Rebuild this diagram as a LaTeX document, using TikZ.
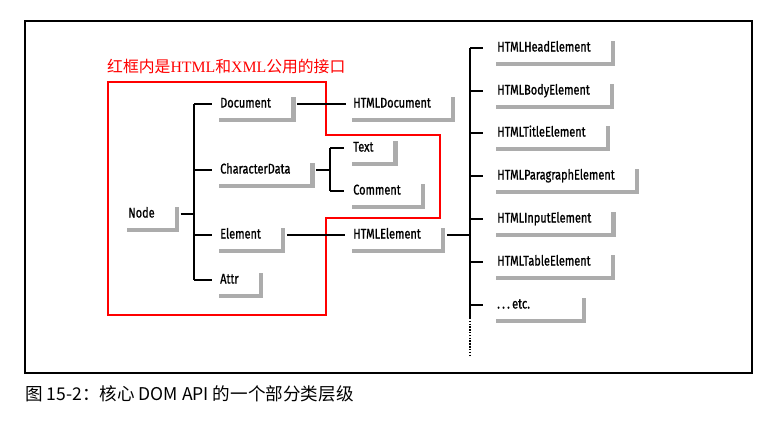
\documentclass[tikz,border=0pt]{standalone}
\usepackage{fontspec}
\newfontfamily\clsfont[FakeStretch=0.78,FakeBold=1]{Fira Sans}
\newfontfamily\cjk{Noto Sans CJK SC}
\newfontfamily\latinserif{Liberation Serif}
\usetikzlibrary{calc}

\tikzset{
  cls/.style={font=\clsfont\fontsize{12}{14}\selectfont, anchor=west, inner sep=0pt,
              text height=8pt, text depth=2pt},
  clsshadow/.style={draw=gray!65, line width=4pt},
  tree/.style={black, line width=1.3pt},
}
% grey drop shadow right of and below a class name
\newcommand{\dropshadow}[2][22]{\draw[clsshadow] ([shift={(#1,-7)}]#2.east) |- ([shift={(-1,16)}]#2.west);}

\begin{document}
\begin{tikzpicture}[x=0.03cm, y=-0.03cm]
  \useasboundingbox (0,0) rectangle (773,421);
  % frame and caption
  \draw[line width=1pt] (25,21) rectangle (752,373);
  \node[anchor=west, inner sep=0pt, font=\cjk\fontsize{15}{17}\selectfont] (caption) at (25,394)
       {图 15-2：核心 DOM API 的一个部分类层级};

  % red box: shared HTML/XML interfaces
  \draw[red, line width=0.9pt] (108,82) -- (326,82) -- (326,135) -- (440,135) -- (440,218)
       -- (326,218) -- (326,315) -- (108,315) -- cycle;
  \node[red, anchor=west, inner sep=0pt, font=\fontsize{13.5}{15}\selectfont] (redlabel) at (107,66)
       {\cjk 红框内是\latinserif HTML\cjk 和\latinserif XML\cjk 公用的接口};

  % core classes
  \node[cls] (node)     at (128,214) {Node};
  \node[cls] (document) at (220,104) {Document};
  \node[cls] (chardata) at (220,170) {CharacterData};
  \node[cls] (element)  at (220,235) {Element};
  \node[cls] (attr)     at (220,280) {Attr};
  \node[cls] (text)     at (353,148) {Text};
  \node[cls] (comment)  at (353,191) {Comment};
  \node[cls] (htmldoc)  at (353,104) {HTMLDocument};
  \node[cls] (htmlelem) at (353,235) {HTMLElement};
  \foreach \n in {node,document,chardata,element,attr,text,comment,htmldoc,htmlelem}
    \dropshadow{\n};

  \coordinate (forkA) at (194,214);
  \coordinate (forkB) at (330,170);
  \coordinate (forkC) at (470,235);
  \coordinate (trunkend) at (470,318);
  \coordinate (dotend) at (470,356);

  \draw[tree] ([xshift=22]node.east) -- (forkA);
  \draw[tree] (forkA |- document) -- (forkA |- attr);
  \foreach \n in {document,chardata,element,attr}
    \draw[tree] (forkA |- \n) -- ([xshift=-7]\n.west);

  \draw[tree] ([xshift=22]chardata.east) -- (forkB);
  \draw[tree] (forkB |- text) -- (forkB |- comment);
  \foreach \n in {text,comment}
    \draw[tree] (forkB |- \n) -- ([xshift=-8]\n.west);

  \draw[tree] ([xshift=22]document.east) -- ([xshift=-6]htmldoc.west);
  \draw[tree] ([xshift=22]element.east) -- ([xshift=-7]htmlelem.west);
  \draw[tree] ([xshift=22]htmlelem.east) -- (forkC);

  % HTML element subclasses
  \foreach \n/\t/\y in {head/HTMLHeadElement/48, body/HTMLBodyElement/91, title/HTMLTitleElement/133,
      para/HTMLParagraphElement/176, input/HTMLInputElement/219, table/HTMLTableElement/262} {
    \node[cls] (\n) at (497,\y) {\t};
    \dropshadow{\n}
    \draw[tree] (forkC |- \n) -- ([xshift=-12]\n.west);
  }
  \node[cls] (etc) at (497,305) {.\,.\,.\,etc.};
  \dropshadow[54]{etc}
  \draw[tree] (forkC |- etc) -- ([xshift=-12]etc.west);

  \draw[tree] (forkC |- head) -- (trunkend);
  \draw[tree, dash pattern=on 1.2pt off 1.2pt] (trunkend) -- (dotend);
\end{tikzpicture}
\end{document}
